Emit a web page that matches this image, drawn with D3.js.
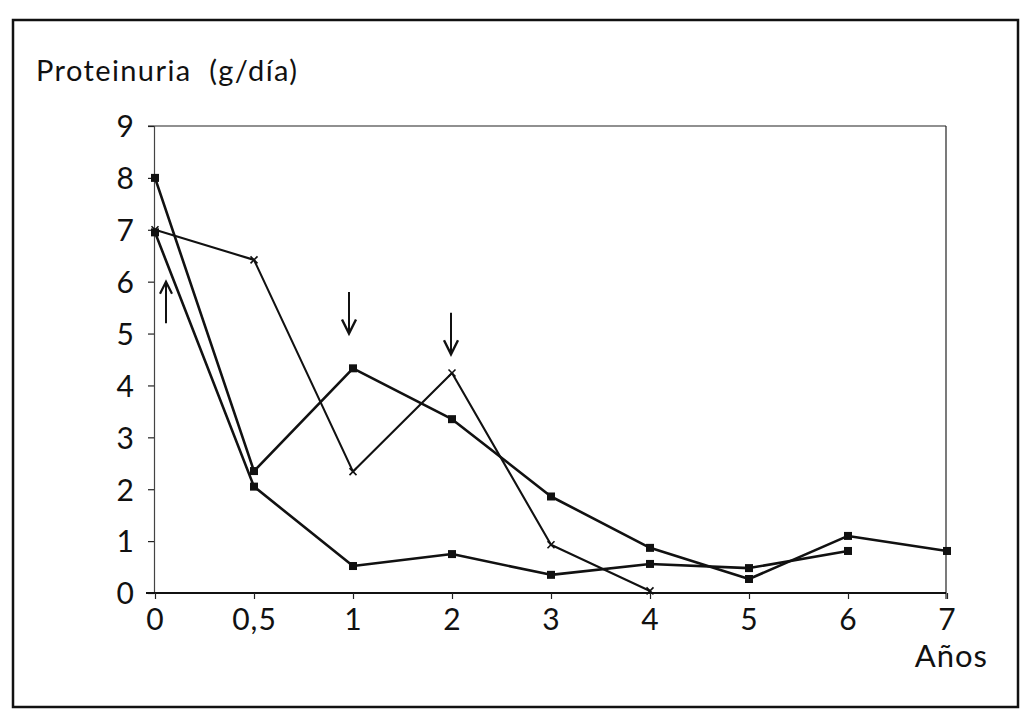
<!DOCTYPE html>
<html><head><meta charset="utf-8">
<script src="https://cdn.jsdelivr.net/npm/d3@7"></script>
<style>html,body{margin:0;padding:0;background:#fff;}svg{display:block;}text{white-space:pre;}</style>
</head><body><svg id="c" width="1024" height="717"></svg>
<script>
const categories = ["0","0,5","1","2","3","4","5","6","7"];
const yTicks = [0,1,2,3,4,5,6,7,8,9];
const seriesA = [8, 2.35, 4.33, 3.35, 1.86, 0.87, 0.27, 1.1, 0.81];
const seriesB = [6.95, 2.05, 0.52, 0.75, 0.35, 0.56, 0.48, 0.81];
const seriesC = [7.0, 6.42, 2.34, 4.24, 0.93, 0.04];
const arrows = [{cat:"0", from:6.0, to:5.2, dx:11, up:true},{cat:"1", from:5.8, to:5.0, dx:-4},{cat:"2", from:5.4, to:4.6, dx:-1}];

const svg = d3.select("#c");
const font = "Lato, 'Open Sans', sans-serif";
const L=154, R=946, T=126, B=593;
const x = d3.scalePoint().domain(categories).range([L+1,R+1]);
const y = d3.scaleLinear().domain([0,9]).range([B,T]);

// outer border
svg.append("rect").attr("x",13).attr("y",20).attr("width",1005).attr("height",687)
  .attr("fill","none").attr("stroke","#111").attr("stroke-width",2.5);

// title
svg.append("text").attr("x",36).attr("y",81).attr("font-family",font).attr("font-size",29)
  .attr("letter-spacing",1.4).attr("fill","#111").text("Proteinuria  (g/día)");

// frame top & right
svg.append("line").attr("x1",L-6).attr("x2",R).attr("y1",T).attr("y2",T).attr("stroke","#222").attr("stroke-width",1.2);
svg.append("line").attr("x1",R).attr("x2",R).attr("y1",T).attr("y2",B+6).attr("stroke","#222").attr("stroke-width",1.2);

// y axis
const ya = svg.append("g").attr("transform",`translate(${L},0)`)
  .call(d3.axisLeft(y).tickValues(yTicks).tickSize(6).tickPadding(14).tickFormat(d3.format("d")));
ya.select(".domain").attr("stroke","#444").attr("stroke-width",1.2);
ya.selectAll(".tick line").attr("stroke","#222").attr("stroke-width",1.2);
ya.selectAll("text").attr("font-family",font).attr("font-size",30).attr("fill","#111").attr("dy","0.36em");

// x axis
const xa = svg.append("g").attr("transform",`translate(0,${B})`)
  .call(d3.axisBottom(x).tickSize(6).tickPadding(10).tickSizeOuter(0));
xa.select(".domain").attr("stroke","#111").attr("stroke-width",1.8).attr("d",`M${L-8},0H${R}`);
xa.selectAll(".tick line").attr("stroke","#222").attr("stroke-width",1.2);
xa.selectAll("text").attr("font-family",font).attr("font-size",30).attr("letter-spacing",1).attr("fill","#111");

svg.append("text").attr("x",988).attr("y",667).attr("text-anchor","end").attr("font-family",font)
  .attr("font-size",31).attr("letter-spacing",1).attr("fill","#111").text("Años");

const line = d3.line().x((d,i)=>x(categories[i])).y(d=>y(d));
function drawSeries(data, w, marker){
  svg.append("path").datum(data).attr("d",line).attr("fill","none").attr("stroke","#111")
    .attr("stroke-width",w).attr("stroke-linejoin","round");
  const g = svg.append("g");
  data.forEach((d,i)=>{
    const cx=x(categories[i]), cy=y(d);
    if(marker==="sq"){
      g.append("rect").attr("x",cx-4).attr("y",cy-4).attr("width",8).attr("height",8).attr("fill","#111");
    } else {
      g.append("path").attr("d",`M${cx-3.5},${cy-3.5}L${cx+3.5},${cy+3.5}M${cx+3.5},${cy-3.5}L${cx-3.5},${cy+3.5}`)
        .attr("stroke","#111").attr("stroke-width",1.6);
    }
  });
}
drawSeries(seriesB, 2.6, "sq");
drawSeries(seriesA, 2.6, "sq");
drawSeries(seriesC, 2.1, "x");

// arrows
arrows.forEach(a=>{
  const ax = x(a.cat)+a.dx;
  const y1=y(a.from), y2=y(a.to);
  if(a.up){
    svg.append("line").attr("x1",ax).attr("x2",ax).attr("y1",y2).attr("y2",y1).attr("stroke","#111").attr("stroke-width",2);
    svg.append("path").attr("d",`M${ax-6},${y1+12}L${ax},${y1}L${ax+6},${y1+12}`).attr("fill","none").attr("stroke","#111").attr("stroke-width",2.2);
  } else {
    svg.append("line").attr("x1",ax).attr("x2",ax).attr("y1",y(a.from)).attr("y2",y(a.to)).attr("stroke","#111").attr("stroke-width",2);
    svg.append("path").attr("d",`M${ax-7},${y2-14}L${ax},${y2}L${ax+7},${y2-14}`).attr("fill","none").attr("stroke","#111").attr("stroke-width",2.4);
  }
});
</script></body></html>
